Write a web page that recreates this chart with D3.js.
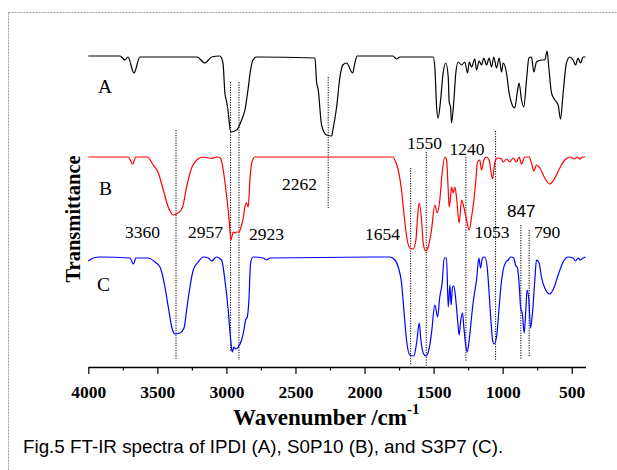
<!DOCTYPE html>
<html><head><meta charset="utf-8">
<script src="https://cdn.jsdelivr.net/npm/d3@7"></script>
<style>body{margin:0;background:#fff}</style>
</head><body>
<svg id="c" width="617" height="470"></svg>
<script>
// ---------- data ----------
const majorTicks = [4000,3500,3000,2500,2000,1500,1000,500];
const minorTicks = [3750,3250,2750,2250,1750,1250,750];
const seriesNames = ["A","B","C"];
const seriesOffsets = [200,100,0];
const seriesColors = ["#000000","#ff0000","#0000ff"];

// [wavenumber, relative transmittance]
const spectrumA = [[4000,101],[3771,101],[3734,97],[3713,100],[3669,84],[3626,100],[3213,100],[3155,94],[3107,100],[3047,101],[3025,94],[3011,64],[2998,55],[2989,47],[2969,25],[2926,27],[2890,37],[2866,47],[2844,67],[2825,87],[2808,97],[2781,100],[2359,99],[2347,75],[2335,67],[2311,32],[2275,22],[2238,21],[2229,27],[2202,50],[2178,80],[2157,92],[2130,94],[2086,84],[2070,94],[2053,101],[1795,101],[1768,98],[1744,100],[1708,100],[1672,100],[1503,100],[1491,90],[1478,50],[1467,39],[1449,57],[1431,84],[1411,94],[1394,80],[1387,55],[1377,50],[1370,34],[1353,57],[1339,84],[1322,95],[1297,92],[1274,95],[1254,84],[1242,95],[1225,90],[1201,98],[1189,87],[1170,96],[1153,92],[1136,99],[1116,92],[1098,99],[1080,90],[1064,100],[1044,89],[1025,99],[1008,85],[996,94],[972,84],[953,64],[936,54],[912,49],[895,64],[881,74],[863,57],[847,50],[827,77],[810,99],[791,100],[774,85],[755,95],[718,97],[695,97],[678,106],[666,90],[646,64],[622,57],[598,52],[581,38],[562,64],[538,94],[514,100],[490,97],[472,92],[454,99],[436,94],[417,100],[400,100]];

const spectrumB = [[4000,100],[3710,100],[3679,93],[3655,100],[3573,100],[3530,92],[3493,84],[3457,67],[3421,50],[3385,42],[3349,44],[3317,50],[3288,70],[3252,89],[3215,97],[3168,100],[3131,99],[3107,98.7],[3071,100],[3042,98.7],[3023,87],[2998,60],[2982,40],[2967,17],[2951,25],[2938,24],[2926,25],[2909,25],[2890,32],[2878,39],[2866,50],[2854,54],[2842,50],[2830,77],[2817,94],[2794,100],[1793,100],[1780,97],[1756,87],[1732,67],[1715,44],[1691,17],[1672,9],[1648,8],[1628,17],[1616,40],[1604,54],[1587,37],[1575,14],[1558,6],[1539,10],[1515,27],[1491,52],[1474,44],[1455,57],[1438,84],[1418,100],[1406,97],[1394,67],[1387,50],[1377,60],[1370,70],[1358,64],[1346,70],[1334,60],[1315,34],[1297,57],[1281,50],[1261,37],[1242,27],[1225,40],[1208,57],[1194,77],[1182,95],[1165,97],[1153,87],[1136,97],[1117,100],[1098,97],[1073,78],[1057,94],[1037,99],[1008,98],[996,95],[972,98],[948,95],[924,99],[900,95],[881,100],[863,93],[839,100],[808,100],[791,94],[774,86],[755,92],[731,89],[695,79],[658,73],[622,79],[586,89],[550,97],[514,100],[478,98],[461,100],[441,98],[422,100],[400,100]];

const spectrumC = [[4000,96],[3964,99],[3915,100],[3698,99],[3674,93],[3655,99],[3566,99],[3517,95],[3481,90],[3445,70],[3421,50],[3396,30],[3373,23],[3336,24],[3307,29],[3288,47],[3264,70],[3240,87],[3204,95],[3168,100],[3131,99],[3107,96],[3071,100],[3035,97],[3011,77],[2987,47],[2969,17],[2958,5],[2945,10],[2933,8],[2914,10],[2890,17],[2873,27],[2861,37],[2849,40],[2837,57],[2825,94],[2806,100],[2733,99],[2709,97],[2685,99],[1816,100],[1780,97],[1756,90],[1732,74],[1715,47],[1696,17],[1672,2],[1643,1],[1623,14],[1604,34],[1592,17],[1575,4],[1556,1],[1534,7],[1515,24],[1491,52],[1471,40],[1455,60],[1438,74],[1423,99],[1406,99],[1394,50],[1382,72],[1373,52],[1363,70],[1353,71],[1339,57],[1326,37],[1315,22],[1303,37],[1290,44],[1281,30],[1269,14],[1257,5],[1242,17],[1225,40],[1214,54],[1206,62],[1189,77],[1172,99],[1160,89],[1146,99],[1129,100],[1112,90],[1098,64],[1085,37],[1073,17],[1062,13],[1044,20],[1027,47],[1013,70],[996,87],[977,95],[960,97],[943,100],[919,99],[907,92],[892,89],[881,74],[870,50],[856,42],[844,24],[832,47],[823,67],[810,57],[798,29],[784,44],[767,77],[755,97],[736,94],[719,80],[695,69],[658,63],[629,69],[598,82],[562,95],[526,100],[490,99],[472,96],[454,99],[436,97],[417,99],[400,100]];

// marker lines: label text and wavenumber position
const markerLabels = ["3360","2957","2923","2262","1654","1550","1240","1053","847","790"];
const markerPositions = [3365,2970,2909,2263,1666,1553,1266,1051,868,808];
// vertical extent of each marker, in y-scale units
const markerTop = [227,275,275,280,189,205,200,226,132,127];
const markerBottom = [-3,5,-3,149,-8,-9,-5,-3,-3,0];

// ---------- layout (pixels) ----------
const labelLayout = {
  "3360":[125,238],"2957":[188,238],"2923":[249,240],"2262":[282,190],
  "1654":[365,239.5],"1550":[407,148.5],"1240":[449.5,155],"1053":[474.5,237.5],
  "847":[507,217],"790":[534,237.5]
};
const nameLayout = {A:[98,93],B:[99,195],C:[97,291]};

const svg = d3.select("#c");
const serif = "'Liberation Serif','Times New Roman',serif";

// border
svg.append("rect").attr("x",8.5).attr("y",12.5).attr("width",700).attr("height",600)
  .attr("fill","none").attr("stroke","#9a9a9a").attr("stroke-width",1).attr("stroke-dasharray","2,1");

const x = d3.scaleLinear().domain([4000,400]).range([88.3,585.5]);
const y = d3.scaleLinear().domain([0,300]).range([357,57]);

// markers
markerLabels.forEach((lab,i)=>{
  svg.append("line")
    .attr("x1",x(markerPositions[i])).attr("x2",x(markerPositions[i]))
    .attr("y1",y(markerTop[i])).attr("y2",y(markerBottom[i]))
    .attr("stroke","#000").attr("stroke-width",1).attr("stroke-dasharray","1.2,1.3");
});

// spectra
const line = d3.line().x(d=>x(d[0])).y(d=>d[1]).curve(d3.curveMonotoneX);
[spectrumA,spectrumB,spectrumC].forEach((s,i)=>{
  const pts = s.map(d=>[d[0], y(d[1]+seriesOffsets[i])]);
  svg.append("path").attr("d",line(pts)).attr("fill","none")
    .attr("stroke",seriesColors[i]).attr("stroke-width",1.2).attr("stroke-linejoin","round");
});

// axis
const gx = svg.append("g").attr("transform","translate(0,367)");
gx.call(d3.axisBottom(x).tickValues(majorTicks).tickSize(7).tickSizeOuter(0).tickFormat(d3.format("d")));
gx.select(".domain").attr("stroke-width",1.4);
gx.selectAll(".tick line").attr("stroke-width",1.2);
gx.selectAll(".tick text").attr("y",30.5).attr("dy",0)
  .style("font-family",serif).style("font-weight","bold").style("font-size","17.5px").attr("fill","#000");
const gm = svg.append("g").attr("transform","translate(0,367)");
gm.call(d3.axisBottom(x).tickValues(minorTicks).tickSize(3.5).tickFormat(""));
gm.select(".domain").remove();
gm.selectAll(".tick line").attr("stroke-width",1.2);

// names
seriesNames.forEach(n=>{
  svg.append("text").attr("x",nameLayout[n][0]).attr("y",nameLayout[n][1]).text(n)
    .style("font-family",serif).style("font-size","19.5px");
});
// marker labels
markerLabels.forEach(lab=>{
  const t = svg.append("text").attr("x",labelLayout[lab][0]).attr("y",labelLayout[lab][1]).text(lab);
  if(lab==="847") t.style("font-family","'Liberation Sans',Arial,sans-serif").style("font-size","17px");
  else t.style("font-family",serif).style("font-size","17.5px");
});

// axis titles
const xt = svg.append("text").attr("x",233).attr("y",424.5)
  .style("font-family",serif).style("font-weight","bold").style("font-size","23px");
xt.append("tspan").text("Wavenumber /cm");
xt.append("tspan").attr("dy",-11).style("font-size","15px").text("-1");

svg.append("text").attr("transform","translate(80,219) rotate(-90)").attr("text-anchor","middle")
  .style("font-family",serif).style("font-weight","bold").style("font-size","20.5px").text("Transmittance");

svg.append("text").attr("x",23).attr("y",453)
  .style("font-family","'Liberation Sans',Arial,sans-serif").style("font-size","18.8px")
  .text("Fig.5 FT-IR spectra of IPDI (A), S0P10 (B), and S3P7 (C).");
</script></body></html>
